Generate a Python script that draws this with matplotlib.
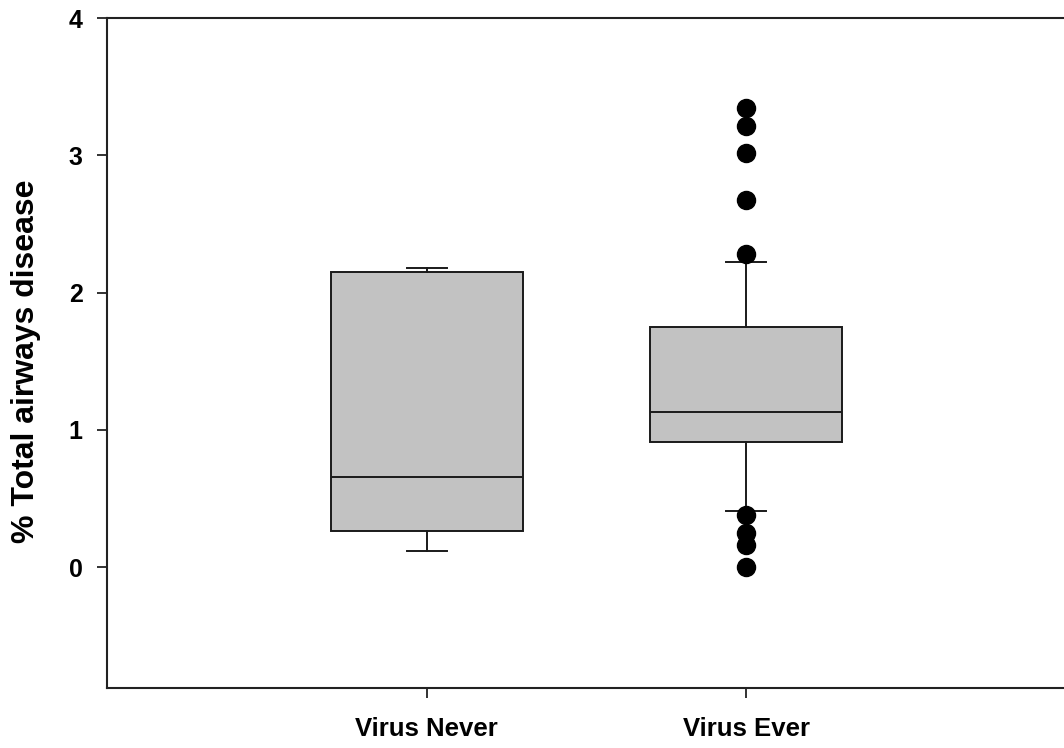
import matplotlib
matplotlib.use("Agg")
import matplotlib.pyplot as plt

categories = ["Virus Never", "Virus Ever"]
q1 = [0.265, 0.913]
median = [0.654, 1.131]
q3 = [2.147, 1.751]
whislo = [0.117, 0.408]
whishi = [2.176, 2.222]
outliers_never = []
outliers_ever = [3.342, 3.215, 3.014, 2.672, 2.28, 0.379, 0.248, 0.16, 0.0]
yticks = [0, 1, 2, 3, 4]
ylabel = "% Total airways disease"

plt.rcParams['font.family'] = ['Liberation Sans', 'DejaVu Sans']

fig = plt.figure(figsize=(10.64, 7.48), dpi=100)
ax = fig.add_axes([107/1064, 1 - 688/748, 959/1064, (688-18)/748])

stats = []
fl = [outliers_never, outliers_ever]
for i, c in enumerate(categories):
    stats.append(dict(label=c, q1=q1[i], med=median[i], q3=q3[i],
                      whislo=whislo[i], whishi=whishi[i], fliers=fl[i]))

ax.bxp(stats, positions=[1, 2], widths=0.6, patch_artist=True,
       boxprops=dict(facecolor='#c2c2c2', edgecolor='#1a1a1a', linewidth=1.4),
       medianprops=dict(color='#1a1a1a', linewidth=1.4),
       whiskerprops=dict(color='#1a1a1a', linewidth=1.4),
       capprops=dict(color='#1a1a1a', linewidth=1.4),
       capwidths=0.125,
       flierprops=dict(marker='o', markerfacecolor='black', markeredgecolor='black',
                       markersize=13, linestyle='none'))

ax.set_xlim(0, 3)
ax.set_ylim(-0.88, 4)
ax.set_yticks(yticks)
ax.set_yticklabels([str(t) for t in yticks])
ax.set_xticks([1, 2])
ax.set_xticklabels(categories)

for s in ax.spines.values():
    s.set_linewidth(1.5)
    s.set_color('#222222')

ax.tick_params(axis='y', direction='out', length=7, width=1.3, pad=10.5,
               labelsize=18, colors='#222222', labelcolor='black')
ax.tick_params(axis='x', direction='out', length=7, width=1.3, pad=14,
               labelsize=18.5, colors='#222222', labelcolor='black')
for lbl in ax.get_xticklabels() + ax.get_yticklabels():
    lbl.set_fontweight('bold')

ax.set_ylabel(ylabel, fontsize=23, fontweight='bold')
ax.yaxis.set_label_coords(-0.069, 0.487)

fig.savefig("out.png", dpi=100)
